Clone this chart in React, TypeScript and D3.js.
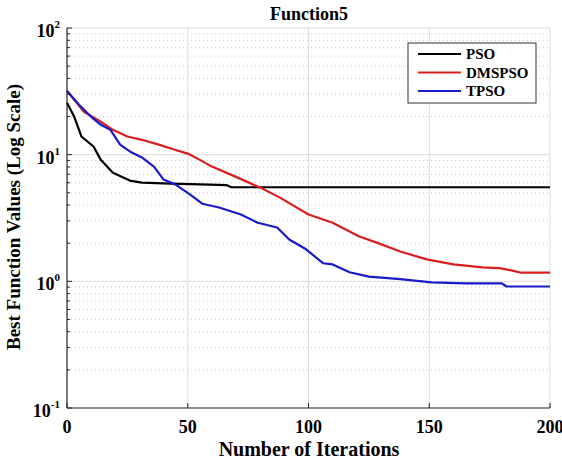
import React from "react";
import * as d3 from "d3";

// (iteration, best value)
const psoIter = [0, 3, 6, 11, 14, 19, 26, 31, 43, 59, 66, 68, 200];
const psoVals = [25.7, 19.9, 13.9, 11.6, 9.1, 7.2, 6.24, 6.02, 5.9, 5.8, 5.75, 5.53, 5.53];

const dmsIter = [0, 7, 14, 19, 25, 31, 38, 45, 50, 55, 60, 69, 80, 88, 100, 110, 121, 128, 138, 149, 160, 172, 179, 184, 188, 200];
const dmsVals = [31.9, 21.8, 18.2, 15.7, 13.9, 13.1, 12.0, 10.9, 10.2, 9.1, 8.05, 6.8, 5.5, 4.6, 3.37, 2.9, 2.26, 2.03, 1.72, 1.49, 1.36, 1.29, 1.27, 1.22, 1.17, 1.17];

const tpsoIter = [0, 5, 10, 14, 18, 22, 26, 31, 36, 40, 45, 51, 56, 63, 72, 79, 87, 92, 99, 106, 110, 117, 125, 138, 151, 165, 180, 182, 200];
const tpsoVals = [31.9, 24.8, 19.9, 17.2, 15.7, 12.0, 10.6, 9.5, 8.05, 6.36, 5.8, 4.84, 4.1, 3.83, 3.37, 2.9, 2.66, 2.14, 1.79, 1.39, 1.36, 1.18, 1.09, 1.04, 0.98, 0.965, 0.965, 0.91, 0.91];

const seriesNames = ["PSO", "DMSPSO", "TPSO"];
const seriesColors = ["#000000", "#d81e1e", "#1a1ac8"];

const xTicks = [0, 50, 100, 150, 200];
const yDecades = [-1, 0, 1, 2];

const FONT = "'Liberation Serif', 'Times New Roman', serif";

export default function App() {
  const width = 562;
  const height = 463;
  const x = d3.scaleLinear().domain([0, 200]).range([67, 550]);
  const y = d3.scaleLog().domain([0.1, 100]).range([408, 28]);

  const line = d3
    .line<[number, number]>()
    .x((d) => x(d[0]))
    .y((d) => y(d[1]));

  const series = [
    psoIter.map((it, i) => [it, psoVals[i]] as [number, number]),
    dmsIter.map((it, i) => [it, dmsVals[i]] as [number, number]),
    tpsoIter.map((it, i) => [it, tpsoVals[i]] as [number, number]),
  ];

  // minor values 2..9 per decade
  const minors: number[] = [];
  for (let e = -1; e < 2; e++) {
    for (let m = 2; m <= 9; m++) minors.push(m * Math.pow(10, e));
  }

  const [x0, x1] = x.range();
  const [yb, yt] = y.range();

  return (
    <svg
      width={width}
      height={height}
      style={{ position: "absolute", left: 0, top: 0, background: "#fff" }}
      fontFamily={FONT}
    >
      {/* minor dotted grid */}
      {minors.map((v) => (
        <line
          key={"mg" + v}
          x1={x0}
          x2={x1}
          y1={y(v)}
          y2={y(v)}
          stroke="#c8c8c8"
          strokeWidth={1}
          strokeDasharray="1 3"
        />
      ))}
      {/* major grid */}
      {yDecades.slice(1).map((e) => (
        <line
          key={"gy" + e}
          x1={x0}
          x2={x1}
          y1={y(Math.pow(10, e))}
          y2={y(Math.pow(10, e))}
          stroke="#dcdcdc"
          strokeWidth={1}
        />
      ))}
      {xTicks.slice(1).map((t) => (
        <line key={"gx" + t} x1={x(t)} x2={x(t)} y1={yb} y2={yt} stroke="#dcdcdc" strokeWidth={1} />
      ))}

      {/* curves */}
      {series.map((s, i) => (
        <path
          key={seriesNames[i]}
          d={line(s) || ""}
          fill="none"
          stroke={seriesColors[i]}
          strokeWidth={2.2}
          strokeLinejoin="round"
        />
      ))}

      {/* axes */}
      <line x1={x0} x2={x0} y1={yb} y2={yt} stroke="#222" strokeWidth={1.2} />
      <line x1={x0} x2={x1} y1={yb} y2={yb} stroke="#222" strokeWidth={1.2} />
      {xTicks.map((t) => (
        <g key={"xt" + t}>
          <line x1={x(t)} x2={x(t)} y1={yb} y2={yb - 5} stroke="#222" />
          <text x={x(t)} y={433} textAnchor="middle" fontSize={18} fontWeight="bold">
            {t}
          </text>
        </g>
      ))}
      {minors.map((v) => (
        <line key={"mt" + v} x1={x0} x2={x0 + 3} y1={y(v)} y2={y(v)} stroke="#222" />
      ))}
      {yDecades.map((e) => (
        <g key={"yt" + e}>
          <line x1={x0} x2={x0 + 5} y1={y(Math.pow(10, e))} y2={y(Math.pow(10, e))} stroke="#222" />
          <text x={60} y={y(Math.pow(10, e)) + 9} textAnchor="end" fontSize={18} fontWeight="bold">
            10
            <tspan dy={-9} fontSize={11}>
              {e}
            </tspan>
          </text>
        </g>
      ))}

      {/* title and labels */}
      <text x={309} y={19.5} textAnchor="middle" fontSize={18} fontWeight="bold">
        Function5
      </text>
      <text x={309} y={456} textAnchor="middle" fontSize={20} fontWeight="bold">
        Number of Iterations
      </text>
      <text
        transform="translate(20,217) rotate(-90)"
        textAnchor="middle"
        fontSize={19}
        fontWeight="bold"
      >
        Best Function Values (Log Scale)
      </text>

      {/* legend */}
      <rect x={408} y={43} width={128} height={60} fill="#fff" stroke="#333" strokeWidth={1} />
      {seriesNames.map((n, i) => (
        <g key={"lg" + n} transform={`translate(0, ${54 + i * 18.5})`}>
          <line x1={418} x2={461} y1={0} y2={0} stroke={seriesColors[i]} strokeWidth={2.2} />
          <text x={466} y={5} fontSize={15} fontWeight="bold">
            {n}
          </text>
        </g>
      ))}
    </svg>
  );
}
